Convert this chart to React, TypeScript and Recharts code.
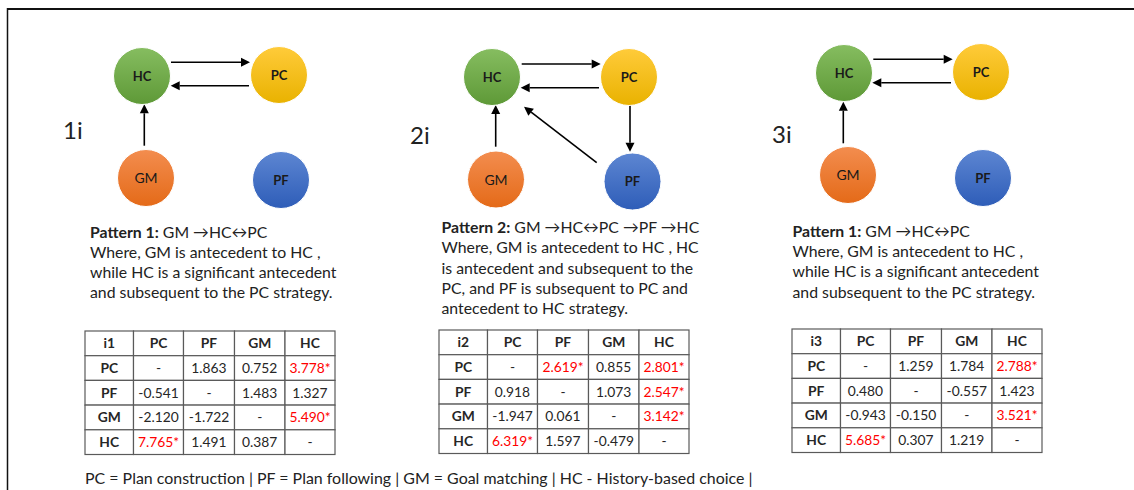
import React from "react";
import { ScatterChart, Scatter, XAxis, YAxis, ReferenceLine } from "recharts";

const W = 1134;
const H = 490;
const FONT = "Lato, 'Open Sans', 'DejaVu Sans', sans-serif";

const strategies = ["PC", "PF", "GM", "HC"];
const panelNames = ["1i", "2i", "3i"];
const tableNames = ["i1", "i2", "i3"];

// circle centres
const nodes1 = [
  { id: "HC", x: 142, y: 76 },
  { id: "PC", x: 279, y: 75 },
  { id: "GM", x: 146, y: 178 },
  { id: "PF", x: 281, y: 180 },
];
const nodes2 = [
  { id: "HC", x: 492, y: 77 },
  { id: "PC", x: 629, y: 77 },
  { id: "GM", x: 496, y: 179.5 },
  { id: "PF", x: 632.5, y: 181.5 },
];
const nodes3 = [
  { id: "HC", x: 844, y: 73 },
  { id: "PC", x: 981, y: 72 },
  { id: "GM", x: 848, y: 175 },
  { id: "PF", x: 983, y: 178 },
];

// arrows: start point -> tip point
const arrows1 = [
  { from: "HC", to: "PC", start: [171, 62.3], tip: [250, 62.3] },
  { from: "PC", to: "HC", start: [249, 85.7], tip: [170.7, 85.7] },
  { from: "GM", to: "HC", start: [144.3, 145.7], tip: [144.3, 104.3] },
];
const arrows2 = [
  { from: "HC", to: "PC", start: [521.7, 64], tip: [600.7, 64] },
  { from: "PC", to: "HC", start: [599, 87.7], tip: [520.7, 87.7] },
  { from: "PC", to: "PF", start: [630, 105], tip: [630, 151.7] },
  { from: "PF", to: "HC", start: [596.7, 162.7], tip: [524, 106.7] },
  { from: "GM", to: "HC", start: [495.7, 146.7], tip: [495.7, 105] },
];
const arrows3 = [
  { from: "HC", to: "PC", start: [873.3, 59.3], tip: [952.7, 59.3] },
  { from: "PC", to: "HC", start: [951, 82.7], tip: [872.3, 82.7] },
  { from: "GM", to: "HC", start: [843.3, 143.3], tip: [843.3, 101.7] },
];

// transition tables (row = from, col = to), * = significant
const table1 = [
  ["-", "1.863", "0.752", "3.778*"],
  ["-0.541", "-", "1.483", "1.327"],
  ["-2.120", "-1.722", "-", "5.490*"],
  ["7.765*", "1.491", "0.387", "-"],
];
const table2 = [
  ["-", "2.619*", "0.855", "2.801*"],
  ["0.918", "-", "1.073", "2.547*"],
  ["-1.947", "0.061", "-", "3.142*"],
  ["6.319*", "1.597", "-0.479", "-"],
];
const table3 = [
  ["-", "1.259", "1.784", "2.788*"],
  ["0.480", "-", "-0.557", "1.423"],
  ["-0.943", "-0.150", "-", "3.521*"],
  ["5.685*", "0.307", "1.219", "-"],
];

const desc1 = [
  ["Pattern 1:", " GM \u2192HC\u2194PC"],
  ["", "Where, GM is antecedent to HC ,"],
  ["", "while HC is a significant antecedent"],
  ["", "and subsequent to the PC strategy."],
];
const desc2 = [
  ["Pattern 2:", " GM \u2192HC\u2194PC \u2192PF \u2192HC"],
  ["", "Where, GM is antecedent to HC , HC"],
  ["", "is antecedent and subsequent to the"],
  ["", "PC, and PF is subsequent to PC and"],
  ["", "antecedent to HC strategy."],
];
const desc3 = desc1;

const footer =
  "PC = Plan construction | PF = Plan following | GM = Goal matching | HC - History-based choice |";

// layout
const NODE_R = 28.5;
const NODE_COLORS: Record<string, [string, string]> = {
  HC: ["#86bd60", "#5e9937"],
  PC: ["#ffcb3a", "#e9b200"],
  GM: ["#f38d4f", "#e46a18"],
  PF: ["#5d86d2", "#2e5db8"],
};
const TABLE_POS = [
  { x: 85, y: 331 },
  { x: 439, y: 330 },
  { x: 792, y: 329 },
];
const COL_W = [48.5, 50, 51, 50.5, 50];
const ROW_H = 24.7;
const DESC_POS = [
  { x: 90, y: 237.5 },
  { x: 441.5, y: 233 },
  { x: 792.5, y: 236.7 },
];
const LABEL_POS = [
  { x: 63, y: 139 },
  { x: 410, y: 144 },
  { x: 772, y: 143.3 },
];
const DESC_LH = 20.3;
const DESC_SIZE = 15.8;

const allNodes = [nodes1, nodes2, nodes3];
const allArrows = [arrows1, arrows2, arrows3];
const allTables = [table1, table2, table3];
const allDesc = [desc1, desc2, desc3];

function buildCells(t: number) {
  const cells: any[] = [];
  const { x: left, y: top } = TABLE_POS[t];
  for (let r = 0; r < 5; r++) {
    let cx = left;
    for (let c = 0; c < 5; c++) {
      let text = "";
      let head = false;
      if (r === 0 && c === 0) { text = tableNames[t]; head = true; }
      else if (r === 0) { text = strategies[c - 1]; head = true; }
      else if (c === 0) { text = strategies[r - 1]; head = true; }
      else text = allTables[t][r - 1][c - 1];
      cells.push({
        x: cx + COL_W[c] / 2,
        y: top + r * ROW_H + ROW_H / 2,
        w: COL_W[c],
        h: ROW_H,
        text,
        head,
        sig: text.endsWith("*"),
      });
      cx += COL_W[c];
    }
  }
  return cells;
}

function NodeShape(props: any) {
  const { cx, cy, payload } = props;
  const [c1, c2] = NODE_COLORS[payload.id];
  const gid = `g-${payload.panel}-${payload.id}`;
  const bold = payload.id !== "GM";
  return (
    <g>
      <defs>
        <linearGradient id={gid} x1="0" y1="0" x2="0" y2="1">
          <stop offset="0%" stopColor={c1} />
          <stop offset="100%" stopColor={c2} />
        </linearGradient>
      </defs>
      <circle cx={cx} cy={cy} r={NODE_R} fill={`url(#${gid})`} stroke="#ffffff" strokeWidth={1} />
      <text
        x={cx}
        y={cy + (bold ? 4.7 : 5)}
        textAnchor="middle"
        fontFamily={FONT}
        fontWeight={bold ? 700 : 400}
        fontSize={bold ? 13 : 14}
        fill="#1a1a1a"
      >
        {payload.id}
      </text>
    </g>
  );
}

function CellShape(props: any) {
  const { cx, cy, payload } = props;
  const { w, h, text, head, sig } = payload;
  return (
    <g>
      <rect x={cx - w / 2} y={cy - h / 2} width={w} height={h} fill="#ffffff" stroke="#5a5a5a" strokeWidth={1.2} />
      <text
        x={cx}
        y={cy + 5}
        textAnchor="middle"
        fontFamily={FONT}
        fontSize={13.8}
        fontWeight={head ? 700 : 400}
        fill={sig ? "#ff0000" : "#262626"}
      >
        {text}
      </text>
    </g>
  );
}

function ArrowShape(props: any) {
  const { x1, y1, x2, y2 } = props;
  const dx = x2 - x1;
  const dy = y2 - y1;
  const len = Math.hypot(dx, dy) || 1;
  const ux = dx / len;
  const uy = dy / len;
  const head = 9;
  const half = 4.5;
  const bx = x2 - ux * head;
  const by = y2 - uy * head;
  return (
    <g>
      <line x1={x1} y1={y1} x2={bx} y2={by} stroke="#000" strokeWidth={1.6} />
      <polygon
        points={`${x2},${y2} ${bx - uy * half},${by + ux * half} ${bx + uy * half},${by - ux * half}`}
        fill="#000"
      />
    </g>
  );
}

export default function App() {
  return (
    <div style={{ position: "absolute", left: 0, top: 0, width: W, height: H, background: "#fff" }}>
      <div style={{ position: "absolute", left: 0, top: 0 }}>
        <ScatterChart width={W} height={H} margin={{ top: 0, right: 0, bottom: 0, left: 0 }}>
          <XAxis type="number" dataKey="x" domain={[0, W]} allowDataOverflow hide />
          <YAxis type="number" dataKey="y" domain={[0, H]} allowDataOverflow reversed hide />
          {allArrows.map((arr, p) =>
            arr.map((a, i) => (
              <ReferenceLine
                key={`a-${p}-${i}`}
                segment={[
                  { x: a.start[0], y: a.start[1] },
                  { x: a.tip[0], y: a.tip[1] },
                ]}
                ifOverflow="visible"
                shape={ArrowShape}
              />
            ))
          )}
          {allNodes.map((ns, p) => (
            <Scatter
              key={`n-${p}`}
              data={ns.map((n) => ({ ...n, panel: p }))}
              shape={(props: any) => <NodeShape {...props} />}
              isAnimationActive={false}
            />
          ))}
          {[0, 1, 2].map((t) => (
            <Scatter
              key={`t-${t}`}
              data={buildCells(t)}
              shape={(props: any) => <CellShape {...props} />}
              isAnimationActive={false}
            />
          ))}
        </ScatterChart>
      </div>
      <svg
        width={W}
        height={H}
        style={{ position: "absolute", left: 0, top: 0, pointerEvents: "none" }}
      >
        <line x1={7} y1={9} x2={W} y2={9} stroke="#111" strokeWidth={2} />
        <line x1={7.5} y1={8} x2={7.5} y2={H} stroke="#111" strokeWidth={1.5} />
        {panelNames.map((name, p) => (
          <text key={name} x={LABEL_POS[p].x} y={LABEL_POS[p].y} fontFamily={FONT} fontSize={24} fill="#222">
            {name}
          </text>
        ))}
        {allDesc.map((lines, p) =>
          lines.map((ln, i) => (
            <text
              key={`d-${p}-${i}`}
              x={DESC_POS[p].x}
              y={DESC_POS[p].y + i * DESC_LH}
              fontFamily={FONT}
              fontSize={DESC_SIZE}
              fill="#222"
            >
              {ln[0] && <tspan fontWeight={700}>{ln[0]}</tspan>}
              <tspan>{ln[1]}</tspan>
            </text>
          ))
        )}
        <text x={85} y={483.5} fontFamily={FONT} fontSize={15.95} fill="#222">
          {footer}
        </text>
      </svg>
    </div>
  );
}
